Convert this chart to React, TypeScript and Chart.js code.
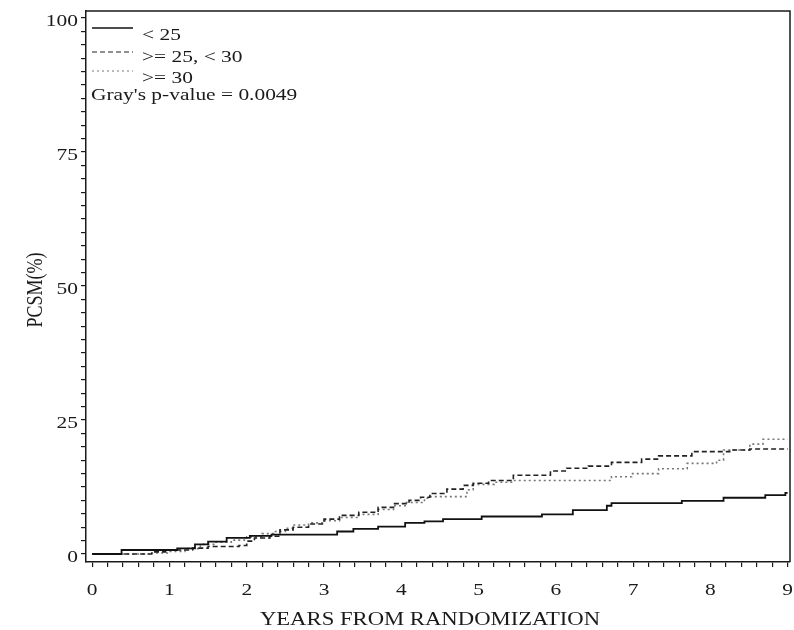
import React, { useEffect, useRef } from "react";
import { Chart, registerables } from "chart.js";

Chart.register(...registerables);

// ---- data ----
const seriesLabels = ["< 25", ">= 25, < 30", ">= 30"];
const pValueText = "Gray's p-value = 0.0049";
const xTitle = "YEARS FROM RANDOMIZATION";
const yTitle = "PCSM(%)";

const xTickLabels = ["0", "1", "2", "3", "4", "5", "6", "7", "8", "9"];
const yTickLabels = ["0", "25", "50", "75", "100"];

const under25Times = [0, 0.38, 1.1, 1.33, 1.5, 1.74, 2.04, 2.32, 3.17, 3.38, 3.7, 4.05, 4.3, 4.54, 5.04, 5.82, 6.22, 6.66, 6.72, 7.63, 8.17, 8.71, 8.97, 9.0];
const under25Values = [0, 0.75, 1.06, 1.8, 2.3, 3.0, 3.4, 3.6, 4.2, 4.7, 5.1, 5.8, 6.1, 6.5, 7.0, 7.4, 8.2, 9.0, 9.5, 9.9, 10.5, 11.0, 11.4, 11.4];

const mid25Times = [0, 0.77, 0.95, 1.3, 1.5, 1.9, 2.0, 2.1, 2.3, 2.43, 2.6, 2.8, 3.0, 3.2, 3.45, 3.7, 3.9, 4.1, 4.25, 4.37, 4.59, 4.8, 4.93, 5.13, 5.45, 5.93, 6.14, 6.42, 6.72, 7.11, 7.33, 7.76, 8.25, 8.51, 9.0];
const mid25Values = [0, 0.4, 0.75, 1.1, 1.4, 1.6, 2.4, 3.0, 3.3, 4.5, 5.0, 5.6, 6.5, 7.2, 7.8, 8.7, 9.4, 10.0, 10.6, 11.3, 12.1, 12.8, 13.2, 13.7, 14.7, 15.5, 16.0, 16.4, 17.1, 17.7, 18.3, 19.1, 19.4, 19.6, 19.6];

const over30Times = [0, 0.75, 1.0, 1.2, 1.4, 1.6, 1.8, 2.0, 2.2, 2.35, 2.5, 2.6, 2.8, 3.0, 3.2, 3.45, 3.7, 3.9, 4.05, 4.3, 4.37, 4.85, 4.93, 5.2, 5.45, 6.72, 6.98, 7.33, 7.7, 8.08, 8.17, 8.51, 8.68, 9.0];
const over30Values = [0, 0.2, 0.5, 1.0, 1.8, 2.2, 2.6, 3.2, 3.8, 4.2, 4.8, 5.4, 5.8, 6.2, 6.8, 7.4, 8.3, 9.0, 9.6, 10.4, 10.7, 12.0, 13.0, 13.4, 13.7, 14.4, 15.0, 15.9, 16.9, 17.5, 19.4, 20.5, 21.4, 21.4];

const xMinorStep = 0.2;
const yMinorStep = 2.5;

// ---- styling ----
const FONT = '"Liberation Serif", "DejaVu Serif", serif';
const FONT_SIZE = 17;
const TITLE_SIZE = 18;
const STRETCH = 1.26;
const TEXT_COLOR = "#1a1a1a";

const lineStyles = [
  { color: "#111111", dash: [] as number[], width: 1.8 },
  { color: "#222222", dash: [5, 3], width: 1.6 },
  { color: "#777777", dash: [2, 3], width: 1.6 },
];

function toPoints(times: number[], values: number[]) {
  return times.map((t, i) => ({ x: t, y: values[i] }));
}

function drawStretched(
  ctx: CanvasRenderingContext2D,
  text: string,
  x: number,
  y: number,
  align: CanvasTextAlign
) {
  ctx.save();
  ctx.translate(x, y);
  ctx.scale(STRETCH, 1);
  ctx.textAlign = align;
  ctx.textBaseline = "alphabetic";
  ctx.fillText(text, 0, 0);
  ctx.restore();
}

const textPlugin = {
  id: "textPlugin",
  afterDraw(chart: any) {
    const ctx: CanvasRenderingContext2D = chart.ctx;
    const { left, right, top, bottom } = chart.chartArea;
    const xs = chart.scales.x;
    const ys = chart.scales.y;
    ctx.save();
    // frame top & right
    ctx.strokeStyle = "#1a1a1a";
    ctx.lineWidth = 1.5;
    ctx.beginPath();
    ctx.moveTo(left, top);
    ctx.lineTo(right, top);
    ctx.lineTo(right, bottom);
    ctx.stroke();

    ctx.fillStyle = TEXT_COLOR;
    ctx.font = `${FONT_SIZE}px ${FONT}`;
    // x tick labels
    xTickLabels.forEach((lab) => {
      const px = xs.getPixelForValue(Number(lab));
      drawStretched(ctx, lab, px, bottom + 33, "center");
    });
    // y tick labels
    yTickLabels.forEach((lab) => {
      const py = ys.getPixelForValue(Number(lab));
      drawStretched(ctx, lab, left - 8, py + 8, "right");
    });
    // x title
    ctx.font = `${TITLE_SIZE}px ${FONT}`;
    drawStretched(ctx, xTitle, (left + right) / 2 - 8, 625, "center");
    // y title (rotated)
    ctx.save();
    ctx.translate(42, 290);
    ctx.rotate(-Math.PI / 2);
    ctx.scale(1, STRETCH);
    ctx.textAlign = "center";
    ctx.textBaseline = "alphabetic";
    ctx.fillText(yTitle, 0, 0);
    ctx.restore();

    // legend
    ctx.font = `${FONT_SIZE}px ${FONT}`;
    const rows = [
      { lineY: top + 17, textY: top + 29 },
      { lineY: top + 41, textY: top + 51 },
      { lineY: top + 60, textY: top + 72 },
    ];
    seriesLabels.forEach((lab, i) => {
      const st = lineStyles[i];
      ctx.save();
      ctx.strokeStyle = st.color;
      ctx.lineWidth = i === 0 ? 1.5 : 1.1;
      ctx.setLineDash(st.dash);
      ctx.beginPath();
      ctx.moveTo(left + 6, rows[i].lineY);
      ctx.lineTo(left + 47, rows[i].lineY);
      ctx.stroke();
      ctx.restore();
      drawStretched(ctx, lab, left + 56, rows[i].textY, "left");
    });
    drawStretched(ctx, pValueText, left + 5, top + 89, "left");
    ctx.restore();
  },
};

function makeTicks(min: number, max: number, step: number) {
  const out: { value: number }[] = [];
  const n = Math.round((max - min) / step);
  for (let i = 0; i <= n; i++) out.push({ value: +(min + i * step).toFixed(4) });
  return out;
}

export default function App() {
  const canvasRef = useRef<HTMLCanvasElement | null>(null);

  useEffect(() => {
    document.body.style.margin = "0";
    const canvas = canvasRef.current;
    if (!canvas) return;
    const datasets = [
      toPoints(under25Times, under25Values),
      toPoints(mid25Times, mid25Values),
      toPoints(over30Times, over30Values),
    ].map((pts, i) => ({
      label: seriesLabels[i],
      data: pts,
      borderColor: lineStyles[i].color,
      borderDash: lineStyles[i].dash,
      borderWidth: lineStyles[i].width,
      pointRadius: 0,
      stepped: true as const,
      fill: false,
      tension: 0,
    }));

    const chart = new Chart(canvas, {
      type: "line",
      data: { datasets },
      options: {
        animation: false,
        responsive: false,
        maintainAspectRatio: false,
        layout: { padding: { top: 11, right: 4, left: 0, bottom: 0 } },
        plugins: { legend: { display: false }, tooltip: { enabled: false } },
        scales: {
          x: {
            type: "linear",
            min: -0.08,
            max: 9.03,
            afterBuildTicks: (scale: any) => {
              scale.ticks = makeTicks(0, 9, xMinorStep);
            },
            afterFit: (scale: any) => {
              scale.height = 68;
            },
            ticks: { display: false },
            grid: {
              drawOnChartArea: false,
              drawTicks: true,
              tickLength: 5,
              color: "#1a1a1a",
              lineWidth: 1.2,
            },
            border: { display: true, color: "#1a1a1a", width: 1.5 },
          },
          y: {
            type: "linear",
            min: -1.49,
            max: 101.3,
            afterBuildTicks: (scale: any) => {
              scale.ticks = makeTicks(0, 100, yMinorStep);
            },
            afterFit: (scale: any) => {
              scale.width = 86;
            },
            ticks: { display: false },
            grid: {
              drawOnChartArea: false,
              drawTicks: true,
              tickLength: 5,
              color: "#1a1a1a",
              lineWidth: 1.2,
            },
            border: { display: true, color: "#1a1a1a", width: 1.5 },
          },
        },
      },
      plugins: [textPlugin],
    });
    return () => chart.destroy();
  }, []);

  return (
    <div style={{ width: 794, height: 630, background: "#fff" }}>
      <canvas ref={canvasRef} width={794} height={630} style={{ display: "block" }} />
    </div>
  );
}
